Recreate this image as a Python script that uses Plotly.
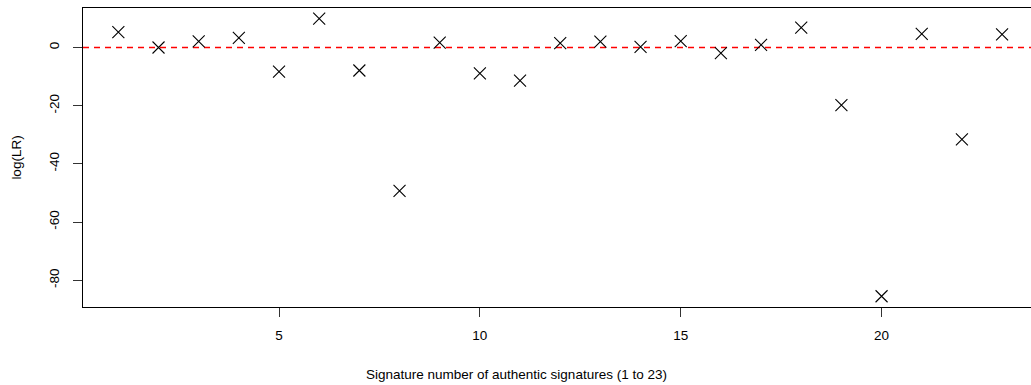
import plotly.graph_objects as go

signature = list(range(1, 24))
log_lr = [5.3, 0.0, 2.1, 3.3, -8.3, 9.9, -7.9, -49.3, 1.7, -8.9, -11.4, 1.5,
          2.0, 0.2, 2.2, -1.9, 0.9, 6.8, -19.8, -85.5, 4.7, -31.6, 4.5]
x_ticks = [5, 10, 15, 20]
y_ticks = [-80, -60, -40, -20, 0]
y_tick_labels = ["-80", "-60", "-40", "-20", "0"]
x_title = "Signature number of authentic signatures (1 to 23)"
y_title = "log(LR)"

FONT = "Liberation Sans, Arial, Helvetica, sans-serif"

fig = go.Figure()
fig.add_trace(go.Scatter(
    x=signature, y=log_lr, mode="markers",
    marker=dict(symbol="x-thin-open", size=12, color="black",
                line=dict(color="black", width=1.1)),
    showlegend=False, hoverinfo="x+y"))

fig.add_shape(type="line", xref="paper", yref="y", x0=0, x1=1, y0=0, y1=0,
              line=dict(color="#ff0000", width=1.3, dash="6px,5px"), layer="below")

fig.add_annotation(text=x_title, xref="paper", yref="paper", x=0.4578, y=0,
                   yshift=-67, showarrow=False, xanchor="center", yanchor="middle",
                   font=dict(family=FONT, size=13.5, color="black"))

fig.update_layout(
    width=1031, height=385,
    margin=dict(l=83, r=0, t=8, b=78),
    paper_bgcolor="white", plot_bgcolor="white",
    font=dict(family=FONT, size=13.5, color="black"),
    xaxis=dict(range=[0.12, 23.72], tickvals=x_ticks, ticks="outside", ticklen=9,
               tickcolor="#333", showline=True, mirror=True, linecolor="black",
               linewidth=1, showgrid=False, zeroline=False, ticklabelstandoff=7,
               tickfont=dict(family=FONT, size=13.5, color="black")),
    yaxis=dict(range=[-89.2, 13.58], tickvals=y_ticks, ticktext=y_tick_labels,
               ticks="outside", ticklen=9,
               tickcolor="#333", showline=True, mirror=False, linecolor="black",
               linewidth=1, showgrid=False, zeroline=False, tickangle=-90,
               ticklabelstandoff=9,
               tickfont=dict(family=FONT, size=13.5, color="black"),
               title=dict(text=y_title, standoff=21,
                          font=dict(family=FONT, size=13.5, color="black"))),
)

fig.write_html("out.html", config={"displayModeBar": False})
